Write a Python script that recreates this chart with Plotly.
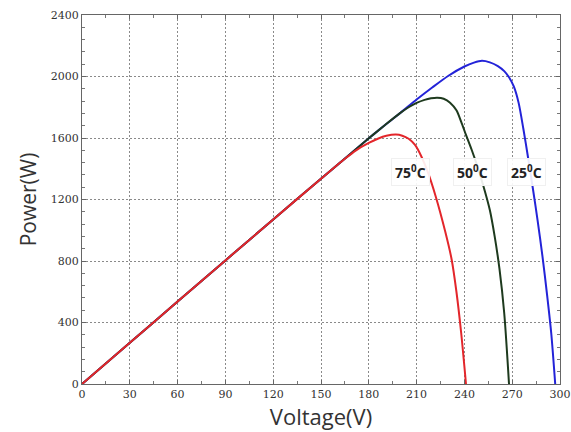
import plotly.graph_objects as go

# 75 C curve
v75 = [0, 30, 60, 90, 120, 150, 165, 172, 180, 186, 191, 197, 201, 205, 209, 213, 217, 222, 228, 232, 235, 238, 241]
p75 = [0, 268, 536, 804, 1070, 1335, 1465, 1520, 1568, 1597, 1614, 1622, 1615, 1595, 1555, 1480, 1380, 1220, 990, 810, 600, 330, 0]

# 50 C curve
v50 = [0, 30, 60, 90, 120, 150, 180, 190, 200, 205, 210, 215, 219, 223, 227, 231, 235, 238, 241, 244.5, 248, 252, 256, 259, 262, 265, 268]
p50 = [0, 268, 536, 804, 1070, 1335, 1598, 1683, 1765, 1800, 1828, 1848, 1858, 1862, 1855, 1830, 1780, 1705, 1620, 1525, 1420, 1285, 1130, 960, 750, 460, 0]

# 25 C curve
v25 = [0, 30, 60, 90, 120, 150, 180, 190, 200, 210, 220, 230, 240, 246, 251, 256, 261, 265, 268, 271, 274, 277, 280, 283, 286, 289, 292, 294.5, 297]
p25 = [0, 268, 536, 804, 1070, 1335, 1598, 1683, 1765, 1850, 1930, 2005, 2065, 2090, 2102, 2092, 2068, 2035, 1995, 1935, 1830, 1660, 1470, 1270, 1060, 830, 570, 330, 0]

labels = ["75<sup>0</sup>C", "50<sup>0</sup>C", "25<sup>0</sup>C"]
label_x = [206, 245, 279]
label_y = [1380, 1380, 1380]

x_ticks = [0, 30, 60, 90, 120, 150, 180, 210, 240, 270, 300]
y_ticks = [0, 400, 800, 1200, 1600, 2000, 2400]

fig = go.Figure()
line_shape = dict(width=2, shape="spline", smoothing=0.8)
fig.add_trace(go.Scatter(x=v25, y=p25, mode="lines", line=dict(color="#2323d8", **line_shape), showlegend=False))
fig.add_trace(go.Scatter(x=v50, y=p50, mode="lines", line=dict(color="#1e3a1e", **line_shape), showlegend=False))
fig.add_trace(go.Scatter(x=v75, y=p75, mode="lines", line=dict(color="#e3262b", **line_shape), showlegend=False))

for t, x, y in zip(labels, label_x, label_y):
    fig.add_annotation(x=x, y=y, text="<b>" + t + "</b>", showarrow=False,
                       font=dict(family="Open Sans", size=14, color="#222222"),
                       bgcolor="rgba(255,255,255,0.9)", bordercolor="#f0f0f0", borderwidth=1, borderpad=3)

axis_common = dict(showline=True, linecolor="#666666", linewidth=1, mirror="allticks",
                   ticks="inside", ticklen=4, tickcolor="#666666",
                   showgrid=True, gridcolor="#8a8a8a", griddash="2px,2px", gridwidth=1,
                   zeroline=False, automargin=False,
                   tickfont=dict(family="DejaVu Serif", size=11, color="#333333"))

fig.update_xaxes(range=[0, 300], tickvals=x_ticks, **axis_common,
                 minor=dict(dtick=15, ticks="inside", ticklen=3, tickcolor="#777777", showgrid=False),
                 title=dict(text="Voltage(V)", font=dict(family="Open Sans", size=22, color="#333333"), standoff=8))
fig.update_yaxes(range=[0, 2400], tickvals=y_ticks, **axis_common,
                 minor=dict(dtick=80, ticks="inside", ticklen=3, tickcolor="#777777", showgrid=False),
                 title=dict(text="Power(W)", font=dict(family="Open Sans", size=21, color="#333333"), standoff=8))

fig.update_layout(width=571, height=432, margin=dict(l=82, r=11, t=15, b=48),
                  plot_bgcolor="white", paper_bgcolor="white")

fig.write_html("out.html")
